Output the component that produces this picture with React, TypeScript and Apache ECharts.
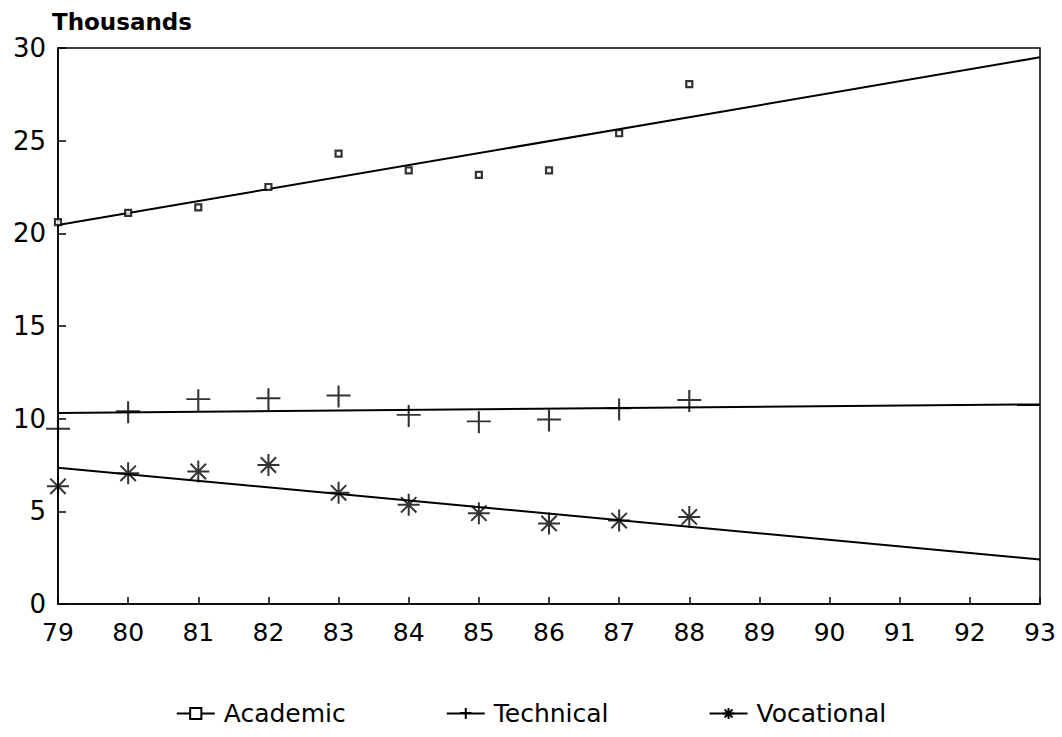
import React, { useEffect, useRef } from "react";
import * as echarts from "echarts";

const years = [79, 80, 81, 82, 83, 84, 85, 86, 87, 88];
const academic = [20.6, 21.1, 21.4, 22.5, 24.3, 23.4, 23.15, 23.4, 25.4, 28.05];
const technical = [9.4, 10.35, 11.0, 11.05, 11.2, 10.15, 9.8, 9.9, 10.5, 10.95];
const vocational = [6.35, 7.05, 7.15, 7.5, 6.0, 5.35, 4.9, 4.35, 4.5, 4.7];

const trendYears = [79, 93];
const academicTrend = [20.45, 29.5];
const technicalTrend = [10.3, 10.77];
const vocationalTrend = [7.35, 2.4];

const seriesNames = ["Academic", "Technical", "Vocational"];
const yAxisTitle = "Thousands";

const FONT = "'DejaVu Sans', 'Liberation Sans', sans-serif";

const plusPath = "path://M0,10L24,10M12,0L12,22";
const starPath = "path://M0,10L20,10M10,0L10,20M3,3L17,17M17,3L3,17";

function pairs(xs: number[], ys: number[]) {
  return xs.map((x, i) => [x, ys[i]]);
}

export default function App() {
  const ref = useRef<HTMLDivElement>(null);
  useEffect(() => {
    if (!ref.current) return;
    const chart = echarts.init(ref.current, null, { renderer: "svg" });
    const ink = "#000";
    const hollow = { color: "rgba(0,0,0,0)", borderColor: ink, borderWidth: 2 };
    const defs = [
      { name: seriesNames[0], pts: academic, trend: academicTrend, symbol: "rect", size: 6, item: { color: "#fff", borderColor: ink, borderWidth: 2.2 } },
      { name: seriesNames[1], pts: technical, trend: technicalTrend, symbol: plusPath, size: [24, 22], item: hollow },
      { name: seriesNames[2], pts: vocational, trend: vocationalTrend, symbol: starPath, size: [22, 22], item: hollow },
    ];
    const series: any[] = [];
    defs.forEach((d) => {
      series.push({
        type: "line",
        name: d.name,
        data: pairs(trendYears, d.trend),
        symbol: d.symbol,
        symbolSize: d.size,
        showSymbol: false,
        itemStyle: d.item,
        lineStyle: { color: ink, width: 2 },
        silent: true,
        z: 2,
      });
      series.push({
        type: "scatter",
        name: d.name,
        data: pairs(years, d.pts),
        symbol: d.symbol,
        symbolSize: d.size,
        itemStyle: d.item,
        z: 3,
      });
    });
    chart.setOption({
      animation: false,
      backgroundColor: "#fff",
      grid: {
        left: 58,
        right: 22,
        top: 48,
        bottom: 133,
        show: true,
        borderColor: ink,
        borderWidth: 1.5,
        backgroundColor: "transparent",
      },
      xAxis: {
        type: "value",
        min: 79,
        max: 93,
        interval: 1,
        axisLine: { show: true, lineStyle: { color: ink, width: 1.5 } },
        axisTick: { show: true, inside: true, length: 7, lineStyle: { color: ink, width: 1.5 } },
        splitLine: { show: false },
        axisLabel: { fontFamily: FONT, fontSize: 25, color: ink, margin: 16 },
      },
      yAxis: {
        type: "value",
        min: 0,
        max: 30,
        interval: 5,
        axisLine: { show: true, lineStyle: { color: ink, width: 1.5 } },
        axisTick: { show: true, inside: true, length: 8, lineStyle: { color: ink, width: 1.5 } },
        splitLine: { show: false },
        axisLabel: { fontFamily: FONT, fontSize: 26, color: ink, margin: 12 },
      },
      legend: {
        bottom: 6,
        left: "center",
        itemWidth: 38,
        itemHeight: 14,
        itemGap: 100,
        data: seriesNames,
        textStyle: { fontFamily: FONT, fontSize: 25, color: ink, padding: [0, 0, 0, 4] },
      },
      graphic: [
        {
          type: "text",
          left: 52,
          top: 10,
          style: { text: yAxisTitle, fontFamily: FONT, fontSize: 23, fontWeight: "bold", fill: ink },
        },
      ],
      series,
    });
    return () => chart.dispose();
  }, []);
  return (
    <div
      ref={ref}
      style={{ position: "fixed", left: 0, top: 0, width: 1062, height: 737, background: "#fff" }}
    />
  );
}
